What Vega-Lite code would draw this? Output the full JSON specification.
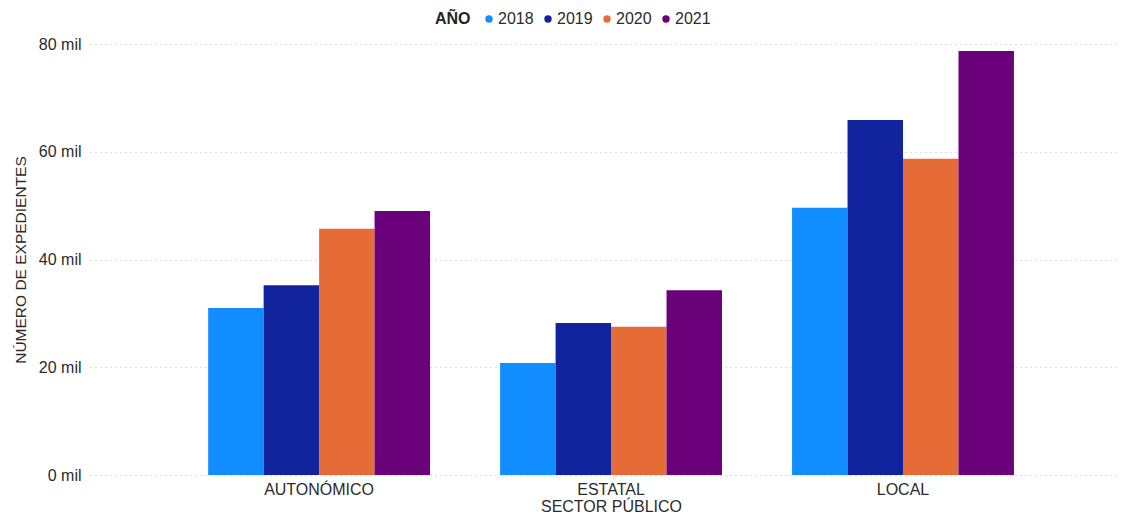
{
  "$schema": "https://vega.github.io/schema/vega-lite/v6.json",
  "width": 1030,
  "height": 431,
  "autosize": {"type": "none"},
  "padding": {"left": 90, "top": 44, "right": 14, "bottom": 39},
  "background": "white",
  "config": {
    "font": "Liberation Sans",
    "view": {"stroke": null},
    "axis": {"labelColor": "#2b2b2b", "titleColor": "#2b2b2b", "labelFont": "Liberation Sans", "titleFont": "Liberation Sans"}
  },
  "data": {
    "values": [
      {"sector": "AUTONÓMICO", "anio": "2018", "expedientes": 31000},
      {"sector": "AUTONÓMICO", "anio": "2019", "expedientes": 35200},
      {"sector": "AUTONÓMICO", "anio": "2020", "expedientes": 45700},
      {"sector": "AUTONÓMICO", "anio": "2021", "expedientes": 49000},
      {"sector": "ESTATAL", "anio": "2018", "expedientes": 20800},
      {"sector": "ESTATAL", "anio": "2019", "expedientes": 28200},
      {"sector": "ESTATAL", "anio": "2020", "expedientes": 27500},
      {"sector": "ESTATAL", "anio": "2021", "expedientes": 34300},
      {"sector": "LOCAL", "anio": "2018", "expedientes": 49600},
      {"sector": "LOCAL", "anio": "2019", "expedientes": 65900},
      {"sector": "LOCAL", "anio": "2020", "expedientes": 58700},
      {"sector": "LOCAL", "anio": "2021", "expedientes": 78700}
    ]
  },
  "mark": {"type": "bar"},
  "encoding": {
    "x": {
      "field": "sector",
      "type": "nominal",
      "sort": ["AUTONÓMICO", "ESTATAL", "LOCAL"],
      "scale": {"paddingInner": 0.24, "paddingOuter": 0.384, "align": 0.527},
      "axis": {
        "title": "SECTOR PÚBLICO",
        "titleFontSize": 16,
        "titleFontWeight": "normal",
        "titleX": 521,
        "titlePadding": 1,
        "labelAngle": 0,
        "labelFontSize": 16,
        "labelPadding": 6,
        "ticks": false,
        "domain": false,
        "grid": false
      }
    },
    "xOffset": {
      "field": "anio",
      "type": "nominal",
      "scale": {"paddingInner": 0, "paddingOuter": 0}
    },
    "y": {
      "field": "expedientes",
      "type": "quantitative",
      "scale": {"domain": [0, 80000], "nice": false},
      "axis": {
        "title": "NÚMERO DE EXPEDIENTES",
        "titleFontSize": 15.5,
        "titleFontWeight": "normal",
        "titlePadding": 10,
        "values": [0, 20000, 40000, 60000, 80000],
        "labelExpr": "format(datum.value / 1000, 'd') + ' mil'",
        "labelFontSize": 16,
        "labelPadding": 9,
        "ticks": false,
        "domain": false,
        "grid": true,
        "gridColor": "#bdbdbd",
        "gridDash": [1, 4],
        "gridWidth": 1
      }
    },
    "color": {
      "field": "anio",
      "type": "nominal",
      "scale": {
        "domain": ["2018", "2019", "2020", "2021"],
        "range": ["#118DFF", "#12239E", "#E66C37", "#6B007B"]
      },
      "legend": {
        "title": "AÑO",
        "orient": "none",
        "legendX": 345,
        "legendY": -33,
        "direction": "horizontal",
        "titleOrient": "left",
        "titleFontSize": 16,
        "titleFontWeight": "bold",
        "titleColor": "#252423",
        "titlePadding": 10,
        "labelFontSize": 16,
        "labelColor": "#2b2b2b",
        "symbolType": "circle",
        "symbolSize": 55,
        "symbolStrokeWidth": 0,
        "labelOffset": 1,
        "columnPadding": 6
      }
    }
  }
}
